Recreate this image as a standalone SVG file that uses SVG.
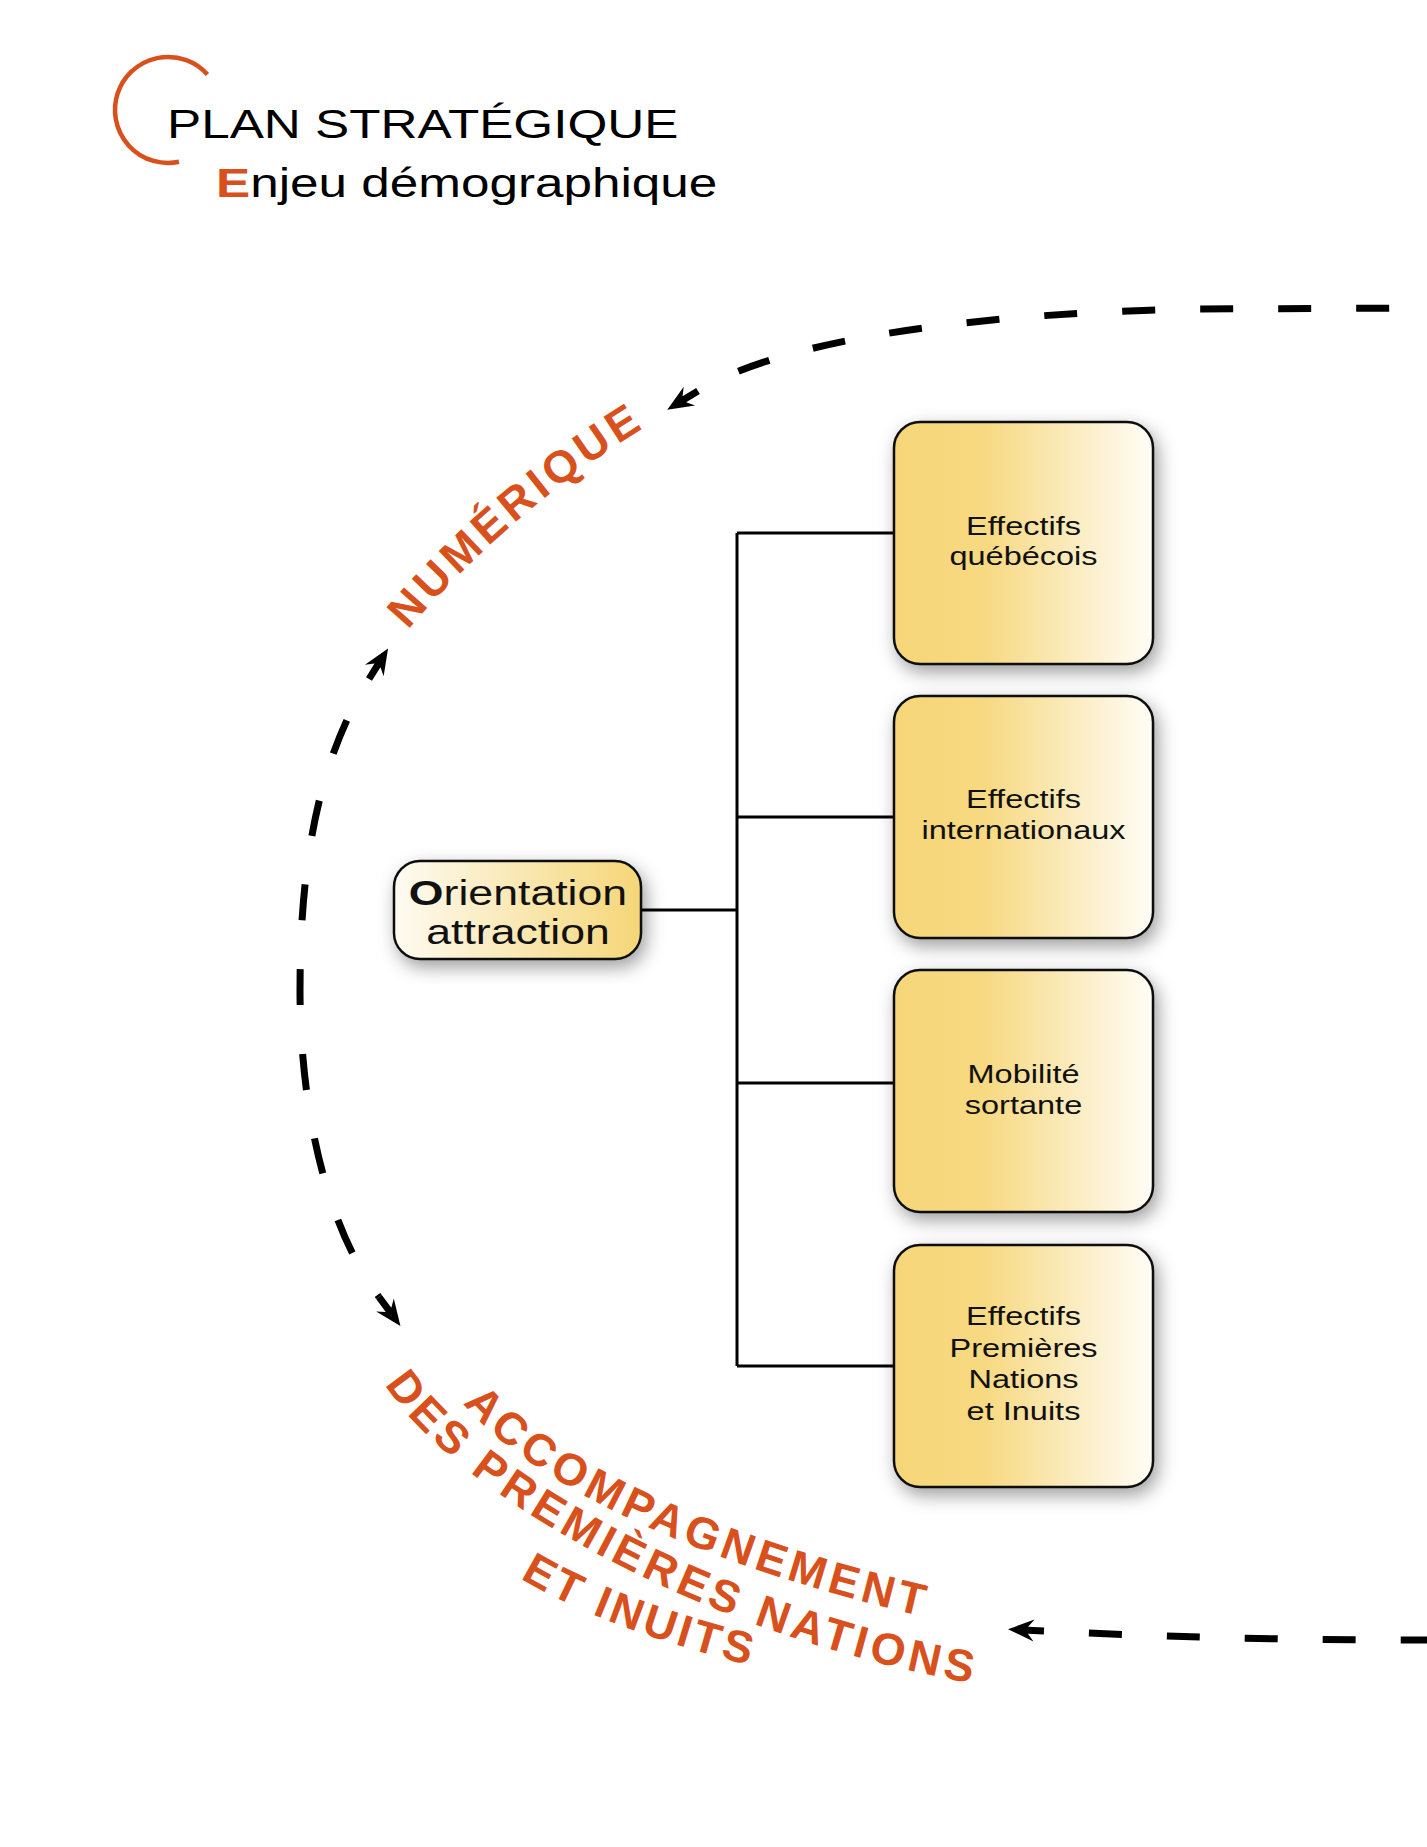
<svg xmlns="http://www.w3.org/2000/svg" width="1427" height="1847" viewBox="0 0 1427 1847">
<style>
.ttl{font-family:"Liberation Sans",Arial,sans-serif;font-size:41px;fill:#000}
.or{fill:#d8501c}
.bt{font-family:"Liberation Sans",Arial,sans-serif;font-size:26px;fill:#111;text-anchor:middle}
.ot{font-family:"Liberation Sans",Arial,sans-serif;font-size:36px;fill:#111;text-anchor:middle}
.cv{font-family:"Liberation Sans",Arial,sans-serif;font-size:45px;font-weight:bold;fill:#d8501c;letter-spacing:4.5px}
.box{fill:url(#gBox);stroke:#111;stroke-width:2.5;filter:url(#sh)}
.dash{fill:none;stroke:#000;stroke-width:7;stroke-dasharray:33 45;stroke-dashoffset:33}
.dashL{fill:none;stroke:#000;stroke-width:7;stroke-dasharray:36 49;stroke-dashoffset:38}
.con{fill:none;stroke:#000;stroke-width:3}
</style>
<defs>
<linearGradient id="gBox" x1="0" y1="0" x2="1" y2="0">
<stop offset="0" stop-color="#f6d679"/>
<stop offset="0.35" stop-color="#f7d981"/>
<stop offset="1" stop-color="#fffdf7"/>
</linearGradient>
<linearGradient id="gOri" x1="0" y1="0" x2="1" y2="0">
<stop offset="0" stop-color="#fefbf2"/>
<stop offset="1" stop-color="#f5d677"/>
</linearGradient>
<filter id="sh" x="-25%" y="-25%" width="150%" height="150%">
<feDropShadow dx="4" dy="7" stdDeviation="9" flood-color="#000" flood-opacity="0.38"/>
</filter>
<marker id="arr" markerUnits="userSpaceOnUse" orient="auto-start-reverse" refX="0" refY="0" markerWidth="40" markerHeight="30" viewBox="-2 -15 40 30" overflow="visible">
<path d="M36 0 L10 -11 L16 -3.5 L0 -3.5 L0 3.5 L16 3.5 L10 11 Z" fill="#000"/>
</marker>
<path id="pNum" d="M 408 630 C 460 568, 549 484, 660 418"/>
<path id="pL1" d="M 463 1403 C 523 1478, 701 1573, 982 1629"/>
<path id="pL2" d="M 385 1384 C 445 1484, 695 1640, 1000 1688"/>
<path id="pL3" d="M 520 1578 C 575 1611, 660 1647, 820 1682"/>
</defs>
<rect width="1427" height="1847" fill="#fff"/>

<g id="title">
<path d="M 207.4 74.5 A 53 53 0 1 0 179 161.8" fill="none" stroke="#d8501c" stroke-width="4.5"/>
<text class="ttl" transform="translate(167,138) scale(1.25,1)">PLAN STRATÉGIQUE</text>
<text class="ttl" transform="translate(216,197) scale(1.25,1)"><tspan class="or" font-weight="bold">E</tspan>njeu démographique</text>
</g>

<g id="connectors">
<path class="dash" marker-start="url(#arr)" d="M 698 391 C 790 335, 1000 312, 1200 309 L 1440 308"/>
<path class="dashL" marker-start="url(#arr)" marker-end="url(#arr)" d="M 369 679 C 316 764, 300 870, 300 990 C 300 1090, 319.5 1216.7, 379 1297"/>
<path class="dash" marker-start="url(#arr)" d="M 1044 1631 C 1150 1636, 1250 1640, 1440 1640"/>
<path class="con" d="M 641 910 H 737 M 737 533 V 1366 M 737 533 H 894 M 737 817 H 894 M 737 1083 H 894 M 737 1366 H 894"/>
</g>

<g id="label-numerique">
<text class="cv"><textPath href="#pNum">NUMÉRIQUE</textPath></text>
</g>
<g id="label-accompagnement">
<text class="cv"><textPath href="#pL1">ACCOMPAGNEMENT</textPath></text>
<text class="cv"><textPath href="#pL2">DES PREMIÈRES NATIONS</textPath></text>
<text class="cv" style="letter-spacing:3.5px"><textPath href="#pL3">ET INUITS</textPath></text>
</g>

<g id="orientation">
<rect x="394" y="861" width="247" height="98" rx="26" fill="url(#gOri)" stroke="#111" stroke-width="2.5" filter="url(#sh)"/>
<text class="ot" transform="translate(518,0) scale(1.24,1)"><tspan x="0" y="905"><tspan font-weight="bold">O</tspan>rientation</tspan><tspan x="0" y="944">attraction</tspan></text>
</g>

<g id="box-quebecois">
<rect class="box" x="894" y="422" width="259" height="242" rx="26"/>
<text class="bt" transform="translate(1023.5,0) scale(1.25,1)"><tspan x="0" y="535">Effectifs</tspan><tspan x="0" y="565">québécois</tspan></text>
</g>
<g id="box-internationaux">
<rect class="box" x="894" y="696" width="259" height="242" rx="26"/>
<text class="bt" transform="translate(1023.5,0) scale(1.25,1)"><tspan x="0" y="808">Effectifs</tspan><tspan x="0" y="839">internationaux</tspan></text>
</g>
<g id="box-mobilite">
<rect class="box" x="894" y="970" width="259" height="242" rx="26"/>
<text class="bt" transform="translate(1023.5,0) scale(1.25,1)"><tspan x="0" y="1083">Mobilité</tspan><tspan x="0" y="1114">sortante</tspan></text>
</g>
<g id="box-pni">
<rect class="box" x="894" y="1245" width="259" height="242" rx="26"/>
<text class="bt" transform="translate(1023.5,0) scale(1.25,1)"><tspan x="0" y="1325">Effectifs</tspan><tspan x="0" y="1357">Premières</tspan><tspan x="0" y="1388">Nations</tspan><tspan x="0" y="1420">et Inuits</tspan></text>
</g>
</svg>
